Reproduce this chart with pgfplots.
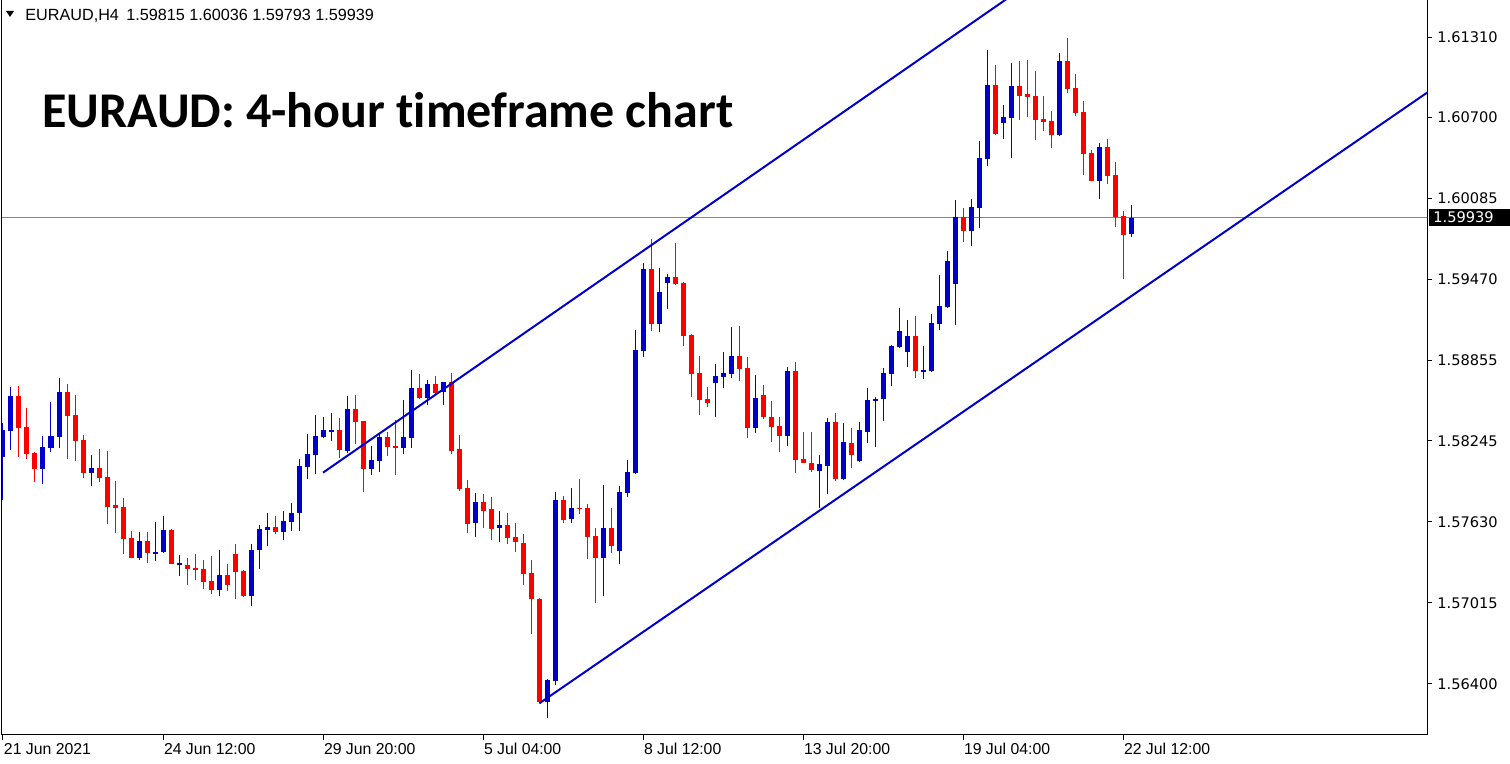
\documentclass[border=0pt]{standalone}
\usepackage{fontspec}
\setmainfont{Liberation Sans}
\newfontfamily\dejavu{DejaVu Sans}
\newfontfamily\carlito[Ligatures={NoCommon,NoContextual}]{Carlito}
\usepackage{pgfplots}
\usepackage{pgfplotstable}
\pgfplotsset{compat=1.18}
\definecolor{mtblue}{RGB}{0,0,205}
\definecolor{mtred}{RGB}{255,0,0}
\definecolor{bidgray}{RGB}{119,136,153}

% EURAUD H4 candles: k = bar index, b = 1 for a bull candle
\pgfplotstableread{
k o h l c b
0 1.58123 1.58381 1.57796 1.58328 1
1 1.58320 1.58654 1.58176 1.58586 1
2 1.58586 1.58661 1.58123 1.58343 0
3 1.58350 1.58495 1.58107 1.58145 0
4 1.58153 1.58161 1.57933 1.58032 0
5 1.58032 1.58282 1.57918 1.58199 1
6 1.58191 1.58540 1.58161 1.58282 1
7 1.58274 1.58722 1.58191 1.58616 1
8 1.58616 1.58677 1.58107 1.58434 0
9 1.58441 1.58593 1.58092 1.58244 0
10 1.58252 1.58290 1.57963 1.58001 0
11 1.58001 1.58138 1.57903 1.58039 1
12 1.58039 1.58183 1.57933 1.57963 0
13 1.57971 1.58168 1.57614 1.57743 0
14 1.57758 1.57941 1.57546 1.57736 0
15 1.57743 1.57812 1.57387 1.57500 0
16 1.57508 1.57561 1.57356 1.57356 0
17 1.57356 1.57554 1.57341 1.57485 1
18 1.57485 1.57554 1.57318 1.57394 0
19 1.57394 1.57629 1.57333 1.57402 1
20 1.57402 1.57675 1.57394 1.57569 1
21 1.57569 1.57576 1.57311 1.57311 0
22 1.57311 1.57379 1.57220 1.57318 1
23 1.57303 1.57356 1.57151 1.57273 0
24 1.57280 1.57387 1.57189 1.57265 0
25 1.57273 1.57341 1.57121 1.57174 0
26 1.57182 1.57371 1.57083 1.57113 0
27 1.57113 1.57417 1.57068 1.57227 1
28 1.57227 1.57311 1.57106 1.57151 0
29 1.57387 1.57462 1.57045 1.57250 0
30 1.57258 1.57265 1.57060 1.57068 0
31 1.57068 1.57462 1.56992 1.57417 1
32 1.57417 1.57607 1.57273 1.57576 1
33 1.57569 1.57698 1.57447 1.57591 1
34 1.57591 1.57675 1.57538 1.57554 0
35 1.57554 1.57713 1.57493 1.57637 1
36 1.57629 1.57774 1.57561 1.57698 1
37 1.57698 1.58107 1.57561 1.58054 1
38 1.58047 1.58297 1.57956 1.58145 1
39 1.58138 1.58441 1.57994 1.58282 1
40 1.58274 1.58426 1.58267 1.58328 1
41 1.58312 1.58457 1.58244 1.58328 1
42 1.58328 1.58419 1.58115 1.58176 0
43 1.58168 1.58586 1.58153 1.58487 1
44 1.58487 1.58593 1.58221 1.58388 0
45 1.58396 1.58396 1.57857 1.58032 0
46 1.58032 1.58206 1.57986 1.58100 1
47 1.58092 1.58297 1.58009 1.58274 1
48 1.58274 1.58312 1.58130 1.58199 0
49 1.58206 1.58403 1.57986 1.58191 0
50 1.58191 1.58555 1.58145 1.58274 1
51 1.58267 1.58783 1.58191 1.58646 1
52 1.58646 1.58753 1.58563 1.58570 0
53 1.58570 1.58707 1.58517 1.58677 1
54 1.58677 1.58737 1.58601 1.58608 0
55 1.58616 1.58692 1.58517 1.58692 1
56 1.58692 1.58760 1.58145 1.58168 0
57 1.58183 1.58290 1.57865 1.57880 0
58 1.57887 1.57948 1.57546 1.57614 0
59 1.57622 1.57849 1.57516 1.57781 1
60 1.57781 1.57842 1.57584 1.57713 0
61 1.57728 1.57819 1.57493 1.57576 0
62 1.57584 1.57713 1.57478 1.57607 1
63 1.57607 1.57698 1.57462 1.57508 0
64 1.57516 1.57622 1.57402 1.57478 0
65 1.57470 1.57538 1.57151 1.57235 0
66 1.57242 1.57341 1.56779 1.57045 0
67 1.57045 1.57053 1.56256 1.56263 0
68 1.56263 1.56438 1.56142 1.56430 1
69 1.56423 1.57857 1.56392 1.57796 1
70 1.57796 1.57827 1.57622 1.57645 0
71 1.57652 1.57887 1.57622 1.57736 1
72 1.57736 1.57956 1.57690 1.57728 0
73 1.57736 1.57766 1.57349 1.57516 0
74 1.57523 1.57584 1.57015 1.57356 0
75 1.57356 1.57910 1.57068 1.57584 1
76 1.57584 1.57736 1.57394 1.57447 0
77 1.57409 1.57903 1.57311 1.57857 1
78 1.57849 1.58100 1.57819 1.58009 1
79 1.58001 1.59086 1.57994 1.58935 1
80 1.58927 1.59595 1.58882 1.59549 1
81 1.59549 1.59777 1.59079 1.59132 0
82 1.59132 1.59557 1.59071 1.59375 1
83 1.59443 1.59511 1.59246 1.59489 1
84 1.59489 1.59747 1.59428 1.59436 0
85 1.59443 1.59451 1.58965 1.59041 0
86 1.59049 1.59056 1.58578 1.58753 0
87 1.58760 1.58889 1.58441 1.58555 0
88 1.58563 1.58654 1.58502 1.58532 0
89 1.58684 1.58828 1.58426 1.58737 1
90 1.58730 1.58920 1.58646 1.58760 1
91 1.58753 1.59109 1.58722 1.58889 1
92 1.58889 1.59117 1.58699 1.58791 0
93 1.58798 1.58882 1.58267 1.58343 0
94 1.58343 1.58745 1.58305 1.58570 1
95 1.58593 1.58669 1.58411 1.58426 0
96 1.58426 1.58548 1.58237 1.58350 0
97 1.58358 1.58426 1.58161 1.58282 0
98 1.58282 1.58806 1.58206 1.58775 1
99 1.58775 1.58844 1.58001 1.58100 0
100 1.58107 1.58312 1.58077 1.58077 0
101 1.58077 1.58312 1.58009 1.58024 0
102 1.58016 1.58138 1.57736 1.58070 1
103 1.58054 1.58419 1.57842 1.58388 1
104 1.58388 1.58457 1.57941 1.57956 0
105 1.57956 1.58381 1.57948 1.58237 1
106 1.58229 1.58343 1.58039 1.58138 0
107 1.58092 1.58388 1.58085 1.58328 1
108 1.58312 1.58646 1.58229 1.58555 1
109 1.58555 1.58578 1.58199 1.58563 1
110 1.58563 1.58798 1.58396 1.58760 1
111 1.58753 1.58973 1.58661 1.58965 1
112 1.58957 1.59253 1.58950 1.59079 1
113 1.58920 1.59162 1.58806 1.59041 1
114 1.59041 1.59193 1.58722 1.58775 0
115 1.58775 1.58965 1.58715 1.58783 1
116 1.58775 1.59208 1.58768 1.59140 1
117 1.59132 1.59504 1.59086 1.59269 1
118 1.59261 1.59686 1.59253 1.59610 1
119 1.59436 1.60073 1.59124 1.59944 1
120 1.59944 1.60012 1.59754 1.59838 0
121 1.59838 1.60081 1.59724 1.60020 1
122 1.60012 1.60521 1.59861 1.60392 1
123 1.60384 1.61211 1.60331 1.60946 1
124 1.60946 1.61098 1.60566 1.60574 0
125 1.60657 1.60794 1.60536 1.60703 1
126 1.60695 1.61113 1.60392 1.60938 1
127 1.60938 1.61128 1.60680 1.60862 0
128 1.60877 1.61136 1.60703 1.60855 0
129 1.60862 1.61052 1.60528 1.60680 0
130 1.60688 1.60862 1.60597 1.60665 0
131 1.60673 1.60748 1.60468 1.60566 0
132 1.60566 1.61189 1.60559 1.61128 1
133 1.61128 1.61302 1.60885 1.60915 0
134 1.60923 1.61029 1.60711 1.60733 0
135 1.60741 1.60824 1.60263 1.60422 0
136 1.60430 1.60452 1.60217 1.60217 0
137 1.60217 1.60506 1.60081 1.60475 1
138 1.60475 1.60536 1.60194 1.60255 0
139 1.60263 1.60361 1.59868 1.59944 0
140 1.59952 1.59990 1.59474 1.59807 0
141 1.59815 1.60036 1.59793 1.59939 1
}\candles

\begin{document}
\begin{tikzpicture}
\useasboundingbox (0,0) rectangle (755pt,382pt);
\begin{axis}[
    at={(1pt,14.5pt)}, anchor=south west,
    scale only axis, width=712.5pt, height=367.5pt,
    xmin=-0.125, xmax=178,
    ymin=1.56013, ymax=1.61591,
    clip mode=individual,
    axis line style={black, line width=0.5pt},
    tick align=outside, major tick length=2.5pt,
    tick style={black, line width=0.5pt},
    xtick pos=bottom, ytick pos=right, yticklabel pos=right,
    xtick={0,20,40,60,80,100,120,140},
    xticklabels={21 Jun 2021, 24 Jun 12:00, 29 Jun 20:00, 5 Jul 04:00,
                 8 Jul 12:00, 13 Jul 20:00, 19 Jul 04:00, 22 Jul 12:00},
    ytick={1.56400,1.57015,1.57630,1.58245,1.58855,1.59470,1.60085,1.60700,1.61310},
    yticklabels={1.56400,1.57015,1.57630,1.58245,1.58855,1.59470,1.60085,1.60700,1.61310},
    xticklabel style={anchor=north west, inner sep=0pt, xshift=0.3pt, yshift=-1.5pt,
                      font=\fontsize{7.9}{9}\selectfont},
    yticklabel style={anchor=west, inner sep=0pt, xshift=2.5pt,
                      font=\dejavu\fontsize{7.3}{9}\selectfont},
]

% bid line
\addplot[bidgray, line width=0.5pt] coordinates {(-1,1.59939) (180,1.59939)};

% wicks
\addplot[draw=none, mark=none, restrict expr to domain={\thisrow{b}}{0.5:1.5},
    error bars/.cd, y dir=both, y explicit, error mark=none,
    error bar style={draw=mtblue, line width=0.5pt}]
    table[x=k, y expr={(\thisrow{h}+\thisrow{l})/2}, y error expr={(\thisrow{h}-\thisrow{l})/2}] {\candles};
\addplot[draw=none, mark=none, restrict expr to domain={\thisrow{b}}{-0.5:0.5},
    error bars/.cd, y dir=both, y explicit, error mark=none,
    error bar style={draw=mtred, line width=0.5pt}]
    table[x=k, y expr={(\thisrow{h}+\thisrow{l})/2}, y error expr={(\thisrow{h}-\thisrow{l})/2}] {\candles};

% bodies
\addplot[draw=none, mark=none, restrict expr to domain={\thisrow{b}}{0.5:1.5},
    error bars/.cd, y dir=both, y explicit, error mark=none,
    error bar style={draw=mtblue, line width=2.5pt}]
    table[x=k, y expr={(\thisrow{o}+\thisrow{c})/2}, y error expr={max(abs(\thisrow{c}-\thisrow{o})/2,0.00004)}] {\candles};
\addplot[draw=none, mark=none, restrict expr to domain={\thisrow{b}}{-0.5:0.5},
    error bars/.cd, y dir=both, y explicit, error mark=none,
    error bar style={draw=mtred, line width=2.5pt}]
    table[x=k, y expr={(\thisrow{o}+\thisrow{c})/2}, y error expr={max(abs(\thisrow{c}-\thisrow{o})/2,0.00004)}] {\candles};

% channel lines
\addplot[mtblue, line width=1pt] coordinates {(40,1.58004) (130,1.61790)};
\addplot[mtblue, line width=1pt] coordinates {(67.04,1.56253) (180,1.60971)};

% current price label
\node[fill=black, text=white, anchor=west, inner sep=0pt,
      minimum height=8.8pt, xshift=1pt, font=\dejavu\fontsize{7.3}{9}\selectfont]
      at (axis cs:178,1.59939) {\hspace*{2pt}1.59939\hspace*{8.5pt}};
\end{axis}

\fill (3pt,376.5pt) -- (7pt,376.5pt) -- (5pt,373.5pt) -- cycle;
\node[anchor=base west, inner sep=0pt, font=\fontsize{8.1}{10}\selectfont]
    at (12.5pt,371.5pt) {EURAUD,H4\hspace{0.45em}1.59815 1.60036 1.59793 1.59939};
\node[anchor=base west, inner sep=0pt, font=\carlito\bfseries\fontsize{25}{30}\selectfont]
    at (21pt,318pt) {EURAUD: 4-hour timeframe chart};
\end{tikzpicture}
\end{document}
